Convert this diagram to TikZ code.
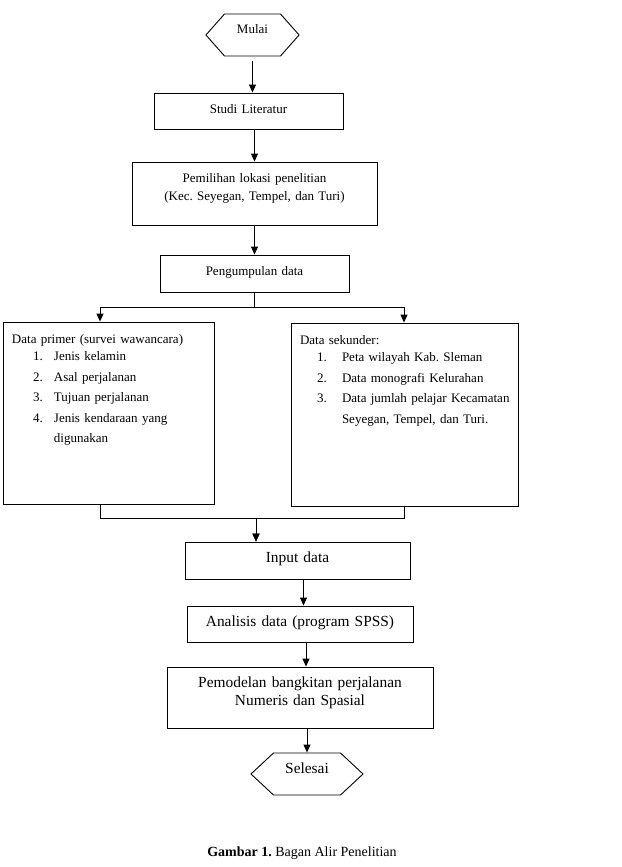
\documentclass[tikz,border=0pt]{standalone}
\usepackage{fontspec}
\setmainfont{Liberation Serif}
\usetikzlibrary{arrows.meta,shapes.symbols}
\frenchspacing
\tikzset{
  flowbox/.style={draw=black,line width=.9pt,inner xsep=0pt,inner ysep=10pt,text height=10pt,align=center,font=\fontsize{13}{18}\selectfont},
  bigbox/.style={flowbox,font=\fontsize{15.4}{18}\selectfont},
  listbox/.style={flowbox,align=left,inner xsep=9pt,inner ysep=11pt,font=\fontsize{13}{20.5}\selectfont},
  endbox/.style={flowbox,signal,signal to=east and west},
  arr/.style={-{Triangle[length=8pt,width=7pt]},line width=.9pt,draw=black},
  caption/.style={font=\fontsize{14}{16}\selectfont}
}
% indent, number box width, number, item text
\newcommand{\listitem}[4]{\hspace*{#1}\makebox[#2][l]{#3}\mbox{#4}}

\begin{document}
\begin{tikzpicture}[x=1pt,y=-1pt]
\useasboundingbox (0,0) rectangle (621,867);
\node[endbox,text width=56pt,text depth=12pt,signal pointer angle=97] (mulai) at (252.5,35) {Mulai};
\node[flowbox,text width=189pt,text depth=6pt] (studi) at (248.5,111) {Studi Literatur};
\node[flowbox,text width=245pt,text depth=33pt] (pilih) at (254.5,193.5) {Pemilihan lokasi penelitian\\(Kec. Seyegan, Tempel, dan Turi)};
\node[flowbox,text width=189pt,text depth=7pt] (kumpul) at (254.5,273.5) {Pengumpulan data};
\node[listbox,text width=193pt,text depth=150pt] (primer) at (108.5,413) {Data primer (survei wawancara)\\[-3pt]
  \listitem{21pt}{21pt}{1.}{Jenis kelamin}\\
  \listitem{21pt}{21pt}{2.}{Asal perjalanan}\\
  \listitem{21pt}{21pt}{3.}{Tujuan perjalanan}\\
  \listitem{21pt}{21pt}{4.}{Jenis kendaraan yang}\\
  \listitem{42pt}{0pt}{}{digunakan}};
\node[listbox,text width=209pt,text depth=151pt] (sekunder) at (404.5,414.5) {Data sekunder:\\[-3pt]
  \listitem{17pt}{25pt}{1.}{Peta wilayah Kab. Sleman}\\
  \listitem{17pt}{25pt}{2.}{Data monografi Kelurahan}\\
  \listitem{17pt}{25pt}{3.}{Data jumlah pelajar Kecamatan}\\
  \listitem{42pt}{0pt}{}{Seyegan, Tempel, dan Turi.}};
\node[bigbox,text width=225pt,text depth=7pt] (input) at (297.5,560.5) {Input data};
\node[bigbox,text width=226pt,text depth=6pt] (analisis) at (300,624) {Analisis data (program SPSS)};
\node[bigbox,text width=266pt,text depth=31pt] (model) at (300,697.5) {Pemodelan bangkitan perjalanan\\Numeris dan Spasial};
\node[endbox,bigbox,signal,signal to=east and west,text width=67pt,text depth=12pt,signal pointer angle=86] (selesai) at (307,774) {Selesai};
\node[caption] (judul) at (302,853) {\textbf{Gambar 1.} Bagan Alir Penelitian};

\coordinate (pl) at (100,307);
\coordinate (pr) at (404,307);
\coordinate (join) at (256,518);
\draw[arr] ([yshift=-5pt]mulai.south) -- (mulai.south |- studi.north);
\draw[arr] (pilih.north |- studi.south) -- (pilih.north);
\draw[arr] (pilih) -- (kumpul);
\draw[arr] (kumpul.south) |- (pl) -- (pl |- primer.north);
\draw[arr] (kumpul.south) |- (pr) -- (pr |- sekunder.north);
\draw[arr] (pl |- primer.south) |- (join) -- (join |- input.north);
\draw[arr] (pr |- sekunder.south) |- (join) -- (join |- input.north);
\draw[arr] ([xshift=6pt]input.south) -- ([xshift=6pt]input.south |- analisis.north);
\draw[arr] ([xshift=6pt]analisis.south) -- ([xshift=6pt]analisis.south |- model.north);
\draw[arr] (model.south -| selesai.north) -- (selesai.north);
\end{tikzpicture}
\end{document}
